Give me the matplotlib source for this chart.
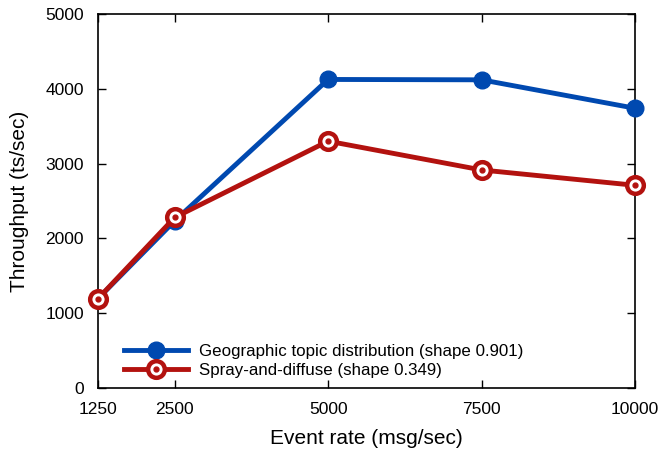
import matplotlib
matplotlib.use("Agg")
import matplotlib.pyplot as plt
from matplotlib.lines import Line2D

plt.rcParams['font.family'] = ['Liberation Sans', 'DejaVu Sans']

# Datos
event_rate = [1250, 2500, 5000, 7500, 10000]
geo_throughput = [1195, 2235, 4125, 4120, 3740]
spray_throughput = [1195, 2280, 3300, 2915, 2710]
x_ticks = [1250, 2500, 5000, 7500, 10000]
y_ticks = [0, 1000, 2000, 3000, 4000, 5000]

geo_label = "Geographic topic distribution (shape 0.901)"
spray_label = "Spray-and-diffuse (shape 0.349)"

BLUE = '#0049b0'
RED = '#b3120f'

fig = plt.figure(figsize=(6.58, 4.55), dpi=100)
ax = fig.add_axes([98 / 658, 1 - 388 / 455, (635 - 98) / 658, (388 - 14) / 455])

ax.plot(event_rate, geo_throughput, '-o', color=BLUE, lw=3.5, ms=12, zorder=3, clip_on=False)
ax.plot(event_rate, spray_throughput, '-o', color=RED, lw=3.5, ms=12,
        mfc='white', mec=RED, mew=3.2, zorder=4, clip_on=False)
ax.plot(event_rate, spray_throughput, 'o', color=RED, ms=3.5, zorder=5, clip_on=False)

ax.set_xlim(1250, 10000)
ax.set_ylim(0, 5000)
ax.set_xticks(x_ticks)
ax.set_yticks(y_ticks)
ax.tick_params(direction='in', length=6, width=1, labelsize=12.5,
               top=True, right=True, pad=10)
for s in ax.spines.values():
    s.set_linewidth(1.2)

ax.set_xlabel("Event rate (msg/sec)", fontsize=15, labelpad=9)
ax.set_ylabel("Throughput (ts/sec)", fontsize=15, labelpad=12)

h_geo = Line2D([], [], color=BLUE, lw=3.5, marker='o', ms=12)
h_spray = (Line2D([], [], color=RED, lw=3.5, marker='o', ms=12, mfc='white', mec=RED, mew=3.2),
           Line2D([], [], color=RED, lw=0, marker='o', ms=3.5))
ax.legend([h_geo, h_spray], [geo_label, spray_label], loc='lower left',
          bbox_to_anchor=(0.02, -0.015), frameon=False, fontsize=12.2,
          handlelength=3.8, handletextpad=0.6, labelspacing=0.25)

fig.savefig("out.png", dpi=100)
